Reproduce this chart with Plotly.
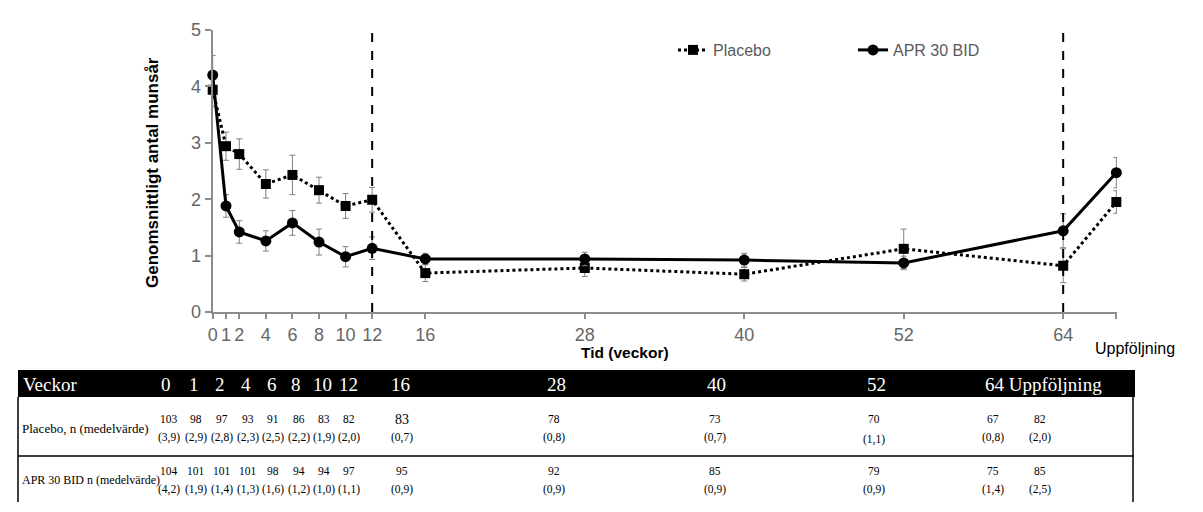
import plotly.graph_objects as go

W, H = 1203, 512
OFF = 8  # page body margin

# plotted data (weeks, follow-up drawn at 68)
weeks = [0, 1, 2, 4, 6, 8, 10, 12, 16, 28, 40, 52, 64, 68]
placebo_mean = [3.94, 2.94, 2.80, 2.27, 2.43, 2.16, 1.88, 1.99, 0.69, 0.78, 0.67, 1.12, 0.82, 1.95]
placebo_err = [0.30, 0.25, 0.27, 0.25, 0.35, 0.23, 0.22, 0.22, 0.15, 0.15, 0.12, 0.35, 0.30, 0.20]
apr_mean = [4.20, 1.88, 1.42, 1.26, 1.58, 1.24, 0.98, 1.13, 0.94, 0.94, 0.92, 0.87, 1.44, 2.47]
apr_err = [0.35, 0.20, 0.20, 0.18, 0.22, 0.23, 0.18, 0.20, 0.10, 0.12, 0.12, 0.12, 0.30, 0.27]

tick_vals = [0, 1, 2, 4, 6, 8, 10, 12, 16, 28, 40, 52, 64, 68]
tick_text = ['0', '1', '2', '4', '6', '8', '10', '12', '16', '28', '40', '52', '64', '']
cut_weeks = [12, 64]

# table below the chart
tab_header = ['0', '1', '2', '4', '6', '8', '10', '12', '16', '28', '40', '52']
placebo_n = ['103', '98', '97', '93', '91', '86', '83', '82', '83', '78', '73', '70', '67', '82']
placebo_tab = ['3,9', '2,9', '2,8', '2,3', '2,5', '2,2', '1,9', '2,0', '0,7', '0,8', '0,7', '1,1', '0,8', '2,0']
apr_n = ['104', '101', '101', '101', '98', '94', '94', '97', '95', '92', '85', '79', '75', '85']
apr_tab = ['4,2', '1,9', '1,4', '1,3', '1,6', '1,2', '1,0', '1,1', '0,9', '0,9', '0,9', '0,9', '1,4', '2,5']

# table layout in pixels
head_px = [166, 194, 220, 246, 272, 296, 322, 348, 400, 556, 716, 876]
col_px = [169, 196, 222, 248, 273, 299, 324, 349, 402, 554, 715, 874, 993, 1040]


def px(x):
    return (x - OFF) / W


def py(y):
    return 1 - (y - OFF) / H


fig = go.Figure()

fig.add_trace(go.Scatter(
    name='Placebo', x=weeks, y=placebo_mean,
    mode='lines+markers', cliponaxis=False,
    line=dict(color='black', width=3, dash='dot'),
    marker=dict(symbol='square', size=10, color='black'),
    error_y=dict(type='data', array=placebo_err, color='#808080', thickness=1, width=3)))

fig.add_trace(go.Scatter(
    name='APR 30 BID', x=weeks, y=apr_mean,
    mode='lines+markers', cliponaxis=False,
    line=dict(color='black', width=3),
    marker=dict(symbol='circle', size=11, color='black'),
    error_y=dict(type='data', array=apr_err, color='#808080', thickness=1, width=3)))

for w in cut_weeks:
    fig.add_shape(type='line', xref='x', yref='y', x0=w, x1=w, y0=0, y1=5,
                  line=dict(color='black', width=2, dash='dash'))

shapes = [
    dict(type='rect', xref='paper', yref='paper', x0=px(18), x1=px(1135), y0=py(370), y1=py(397),
         fillcolor='black', line=dict(width=0), layer='below'),
    dict(type='line', xref='paper', yref='paper', x0=px(18), x1=px(1134), y0=py(456), y1=py(456),
         line=dict(color='black', width=1.5)),
    dict(type='line', xref='paper', yref='paper', x0=px(18), x1=px(18), y0=py(397), y1=py(502),
         line=dict(color='black', width=1.5)),
    dict(type='line', xref='paper', yref='paper', x0=px(1133), x1=px(1133), y0=py(397), y1=py(502),
         line=dict(color='black', width=1.5)),
]
for s in shapes:
    fig.add_shape(**s)

serif = 'Liberation Serif'
ann = []
ann.append(dict(text='Veckor', x=px(21), y=py(384), xanchor='left', font=dict(size=19, color='white', family=serif)))
for t, x in zip(tab_header, head_px):
    ann.append(dict(text=t, x=px(x), y=py(384), font=dict(size=19, color='white', family=serif)))
ann.append(dict(text='64 Uppföljning', x=px(1043), y=py(384), font=dict(size=19, color='white', family=serif)))

ann.append(dict(text='Placebo, n (medelvärde)', x=px(20), y=py(428), xanchor='left',
                font=dict(size=13, color='black', family=serif)))
ann.append(dict(text='APR 30 BID n (medelvärde)', x=px(20), y=py(480), xanchor='left',
                font=dict(size=12, color='black', family=serif)))

for i, x in enumerate(col_px):
    big = 14 if i == 8 else 11.5
    ann.append(dict(text=placebo_n[i], x=px(x), y=py(419), font=dict(size=big, color='black', family=serif)))
    ann.append(dict(text='(' + placebo_tab[i] + ')', x=px(x), y=py(437 if i != 11 else 439),
                    font=dict(size=11.5, color='black', family=serif)))
    ann.append(dict(text=apr_n[i], x=px(x), y=py(471), font=dict(size=11.5, color='black', family=serif)))
    ann.append(dict(text='(' + apr_tab[i] + ')', x=px(x), y=py(489), font=dict(size=11.5, color='black', family=serif)))

ann.append(dict(text='<b>Genomsnittligt antal munsår</b>', x=px(152), y=py(173), textangle=-90,
                font=dict(size=17, color='black')))
ann.append(dict(text='<b>Tid (veckor)</b>', x=px(625), y=py(352), font=dict(size=15.5, color='black')))
ann.append(dict(text='Uppföljning', x=px(1135), y=py(348), font=dict(size=16, color='black')))

for a in ann:
    a.setdefault('xanchor', 'center')
    a.setdefault('yanchor', 'middle')
    fig.add_annotation(xref='paper', yref='paper', showarrow=False, **a)

fig.update_layout(
    width=W, height=H,
    margin=dict(l=0, r=0, t=0, b=0, autoexpand=False),
    plot_bgcolor='white', paper_bgcolor='white',
    font=dict(family='Liberation Sans', color='#5a5a5a'),
    showlegend=True,
    legend=dict(orientation='h', x=px(673), y=py(50), xanchor='left', yanchor='middle',
                font=dict(size=16, color='#5a5a5a'), entrywidth=135, entrywidthmode='pixels',
                bgcolor='rgba(0,0,0,0)', itemwidth=30),
    xaxis=dict(domain=[px(212.7), px(1117)], range=[0, 68.05],
               tickvals=tick_vals, ticktext=tick_text,
               showgrid=False, zeroline=False, showline=True, linecolor='#8c8c8c', linewidth=2,
               ticks='outside', ticklen=5, tickcolor='#8c8c8c', tickwidth=1.5,
               tickfont=dict(size=18, color='#666666')),
    yaxis=dict(domain=[py(312), py(30)], range=[0, 5], dtick=1,
               showgrid=False, zeroline=False, showline=True, linecolor='#8c8c8c', linewidth=2,
               ticks='outside', ticklen=6, tickcolor='#8c8c8c', tickwidth=1.5,
               tickfont=dict(size=18, color='#666666')),
)

fig.write_html("out.html")
